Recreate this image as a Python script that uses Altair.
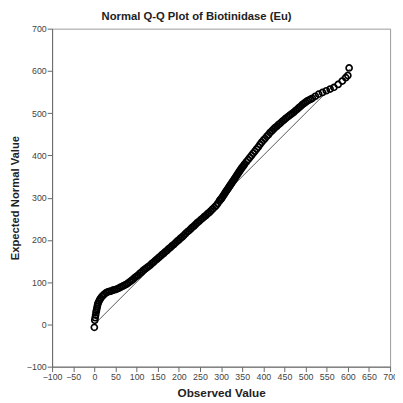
import altair as alt
import pandas as pd

observed = [0,
    1, 2, 3, 4, 5, 6, 7, 8, 9, 11, 13, 15, 18, 21, 24, 28, 32, 36, 40, 44, 48, 52, 56, 60,
    64, 68, 72, 76, 80, 84, 88, 92, 96, 100, 104, 108, 112, 116, 120, 124, 128, 132, 136,
    140, 144, 148, 152, 156, 160, 164, 168, 172, 176, 180, 184, 188, 192, 196, 200, 204,
    208, 212, 216, 220, 224, 228, 232, 236, 240, 244, 248, 252, 256, 260, 264, 268, 272,
    276, 280, 284, 288, 292, 296, 298, 300, 302, 304, 306, 308, 310, 312, 314, 316, 318,
    320, 322, 324, 326, 328, 330, 332, 334, 336, 338, 340, 342, 344, 346, 348, 350, 352,
    354, 356, 360, 364, 368, 372, 376, 380, 384, 388, 392, 396, 400, 404, 408, 412, 416,
    420, 424, 428, 432, 436, 440, 444, 448, 452, 456, 460, 464, 468, 472, 476, 480, 484,
    488, 492, 496, 500, 504, 508, 512, 516,
    523, 531, 540, 549, 558, 567, 577, 587, 595, 600, 603]

expected = [-7,
    10, 16, 22, 28, 33, 38, 43, 47, 51, 55, 59, 62, 66, 69, 72, 75, 77, 78, 79, 81, 82, 83, 85, 87,
    89, 91, 93, 95, 98, 101, 104, 107, 111, 114, 117, 121, 124, 128, 131, 134, 137, 140, 144,
    147, 151, 154, 158, 161, 165, 168, 172, 175, 179, 182, 186, 189, 193, 197, 200, 204,
    207, 211, 215, 219, 222, 226, 230, 233, 237, 241, 244, 248, 251, 255, 258, 262, 265,
    269, 273, 277, 281, 286, 292, 295, 297, 300, 303, 306, 309, 312, 315, 318, 321, 324,
    327, 330, 333, 336, 339, 342, 345, 348, 351, 354, 357, 360, 363, 366, 369, 372, 374,
    377, 380, 385, 390, 395, 400, 405, 410, 415, 420, 426, 431, 436, 440, 445, 449, 454,
    458, 462, 466, 469, 473, 476, 480, 483, 487, 490, 493, 496, 499, 502, 506, 509, 513,
    516, 520, 523, 526, 529, 531, 533, 535,
    540, 545, 549, 553, 557, 561, 568, 576, 584, 589, 607]

line_x = [0, 605]
line_y = [0, 605]

x_ticks = list(range(-100, 701, 50))
y_ticks = list(range(-100, 701, 100))

pts = pd.DataFrame({"obs": observed, "exp": expected})
ref = pd.DataFrame({"obs": line_x, "exp": line_y})

x_enc = alt.X("obs:Q", title="Observed Value",
              scale=alt.Scale(domain=[-100, 700], nice=False, zero=False),
              axis=alt.Axis(values=x_ticks, grid=False, tickSize=5, labelPadding=1,
                            titlePadding=6, labelFontSize=9, labelColor="#444",
                            titleFontSize=12, titleFontWeight="bold", titleColor="#222",
                            domainColor="#666", tickColor="#666", labelFlush=False,
                            labelOverlap=False))
y_enc = alt.Y("exp:Q", title="Expected Normal Value",
              scale=alt.Scale(domain=[-100, 700], nice=False, zero=False),
              axis=alt.Axis(values=y_ticks, grid=False, tickSize=5, labelPadding=1,
                            titlePadding=6, labelFontSize=9, labelColor="#444",
                            titleFontSize=11.5, titleFontWeight="bold", titleColor="#222",
                            domainColor="#666", tickColor="#666", labelFlush=False,
                            labelOverlap=False))

line = alt.Chart(ref).mark_line(color="#555", strokeWidth=1).encode(x=x_enc, y=y_enc)
points = alt.Chart(pts).mark_point(shape="circle", filled=False, color="black",
                                   size=38, strokeWidth=1.7, opacity=1).encode(x=x_enc, y=y_enc)

chart = (line + points).properties(
    width=345, height=345,
    title=alt.TitleParams("Normal Q-Q Plot of Biotinidase (Eu)", fontSize=11.5,
                          fontWeight="bold", color="#222", anchor="middle", dx=-25, offset=2),
    autosize=alt.AutoSizeParams(type="none"),
    padding={"left": 45, "top": 17, "right": 5, "bottom": 33},
).configure(font="Liberation Sans").configure_view(stroke="#999", strokeWidth=1)

chart.save("out.html", embed_options={"renderer": "svg", "actions": False})
